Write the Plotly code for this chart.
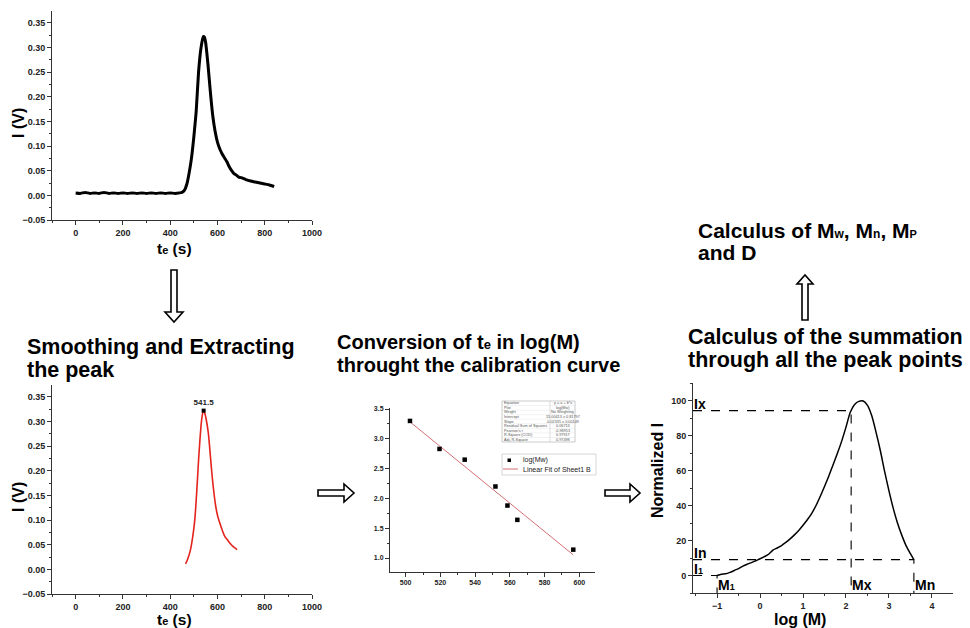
import numpy as np
import plotly.graph_objects as go

W, H = 970, 628
FONT = "Liberation Sans, Arial, Helvetica, sans-serif"

# ---------------- data ----------------
# Panel 1: raw signal
te_raw = [0, 20, 40, 60, 80, 100, 120, 140, 160, 180, 200, 220, 240, 260, 280, 300,
          320, 340, 360, 380, 400, 420, 440, 450, 460, 470, 480, 490, 500, 510, 520,
          530, 540, 545, 550, 560, 570, 580, 590, 600, 610, 620, 630, 640, 650, 660,
          670, 680, 690, 700, 720, 740, 760, 780, 800, 820, 840]
I_raw = [0.005, 0.004, 0.006, 0.004, 0.005, 0.004, 0.006, 0.004, 0.005, 0.004, 0.005,
         0.004, 0.005, 0.004, 0.005, 0.004, 0.005, 0.004, 0.005, 0.004, 0.005, 0.004,
         0.005, 0.006, 0.010, 0.022, 0.045, 0.075, 0.118, 0.170, 0.250, 0.298, 0.322,
         0.321, 0.310, 0.265, 0.210, 0.162, 0.130, 0.108, 0.094, 0.084, 0.076, 0.068,
         0.058, 0.050, 0.044, 0.041, 0.037, 0.036, 0.032, 0.029, 0.027, 0.025, 0.023,
         0.021, 0.018]

# Panel 2: smoothed / extracted peak
te_smooth = [465, 475, 486, 495, 504, 512, 521, 527, 533, 538, 541.5, 546, 552, 561,
             568, 575, 584, 593, 601, 610, 620, 631, 642, 655, 667, 675, 683]
I_smooth = [0.011, 0.022, 0.040, 0.065, 0.100, 0.155, 0.229, 0.270, 0.303, 0.318,
            0.322, 0.317, 0.305, 0.278, 0.242, 0.202, 0.160, 0.127, 0.108, 0.094,
            0.080, 0.067, 0.060, 0.052, 0.046, 0.043, 0.040]
peak_te = 541.5
peak_I = 0.322

# Panel 3: calibration curve
te_cal = [502.5, 519.5, 534.0, 551.7, 558.6, 564.3, 596.5]
logMw_cal = [3.30, 2.83, 2.65, 2.20, 1.88, 1.64, 1.14]

# Panel 4: normalized distribution
logM = [-1.0, -0.9, -0.8, -0.7, -0.6, -0.5, -0.4, -0.3, -0.2, -0.1, 0.0, 0.1, 0.2,
        0.3, 0.4, 0.5, 0.6, 0.7, 0.8, 0.9, 1.0, 1.1, 1.2, 1.3, 1.4, 1.5, 1.6, 1.7,
        1.8, 1.9, 2.0, 2.1, 2.2, 2.3, 2.4, 2.5, 2.6, 2.7, 2.8, 2.9, 3.0, 3.1, 3.2,
        3.3, 3.4, 3.5, 3.58]
normI = [0.0, 0.8, 1.0, 1.8, 2.9, 4.0, 5.4, 6.5, 7.4, 8.5, 9.6, 10.8, 12.2, 14.6,
         15.8, 17.2, 19.0, 21.0, 23.3, 25.8, 28.8, 32.0, 35.5, 40.0, 45.3, 51.0, 57.0,
         63.5, 70.0, 77.0, 85.0, 93.5, 98.0, 99.8, 100.0, 97.5, 91.5, 82.0, 71.5, 59.5,
         48.5, 38.5, 30.0, 23.0, 17.0, 12.5, 9.1]
M1, Mx, Mn = -1.0, 2.12, 3.58
I1, Ix, In = 0.0, 94.5, 9.1
LOGM_MIN, NI_MIN = -1.56, -10.0

stat_labels = ["Equation", "Plot", "Weight", "Intercept", "Slope",
               "Residual Sum of Squares", "Pearson's r", "R-Square (COD)", "Adj. R-Square"]
stat_values = ["y = a + b*x", "log(Mw)", "No Weighting", "15.00413 \u00b1 0.81797",
               "-0.02335 \u00b1 0.00149", "0.06713", "-0.98953", "0.97917", "0.97498"]


def px(x):
    return x / W


def py(y):
    return 1 - y / H


def small(t, size):
    return f"<span style='font-size:{size}px'>{t}</span>"


def axis(domain, rng, dtick, minor, size, anchor, fmt=None):
    d = dict(domain=domain, range=rng, dtick=dtick, tick0=0, showline=True,
             linecolor="#333", linewidth=1, ticks="outside", ticklen=4,
             tickcolor="#333", tickwidth=1, automargin=False,
             minor=dict(ticks="outside", ticklen=2, dtick=minor, tickcolor="#333"),
             showgrid=False, zeroline=False, anchor=anchor, fixedrange=True,
             tickfont=dict(family=FONT, size=size, color="#222", weight="bold"))
    if fmt:
        d["tickformat"] = fmt
    return d


fig = go.Figure()

# Panel 1
fig.add_trace(go.Scatter(x=te_raw, y=I_raw, mode="lines",
                         line=dict(color="black", width=3, shape="spline", smoothing=0.5),
                         xaxis="x", yaxis="y", showlegend=False))
# Panel 2
fig.add_trace(go.Scatter(x=te_smooth, y=I_smooth, mode="lines",
                         line=dict(color="#e3231c", width=1.6, shape="spline"),
                         xaxis="x2", yaxis="y2", showlegend=False))
fig.add_trace(go.Scatter(x=[peak_te], y=[peak_I], mode="markers+text",
                         marker=dict(symbol="square", size=4, color="black"),
                         text=[str(peak_te)], textposition="top center",
                         textfont=dict(family=FONT, size=8, color="#222", weight="bold"),
                         xaxis="x2", yaxis="y2", showlegend=False))
# Panel 3
slope, intercept = np.polyfit(te_cal, logMw_cal, 1)
fit_x = [te_cal[0], te_cal[-1]]
fit_y = [intercept + slope * v for v in fit_x]
fig.add_trace(go.Scatter(x=fit_x, y=fit_y, mode="lines",
                         line=dict(color="#d46f74", width=1),
                         xaxis="x3", yaxis="y3", showlegend=False))
fig.add_trace(go.Scatter(x=te_cal, y=logMw_cal, mode="markers",
                         marker=dict(symbol="square", size=4.5, color="black"),
                         xaxis="x3", yaxis="y3", showlegend=False))
# Panel 4
fig.add_trace(go.Scatter(x=logM, y=normI, mode="lines",
                         line=dict(color="black", width=1.5, shape="spline", smoothing=0.7),
                         xaxis="x4", yaxis="y4", showlegend=False))
dash = dict(color="black", width=1.1, dash="dash")
for (mx, iy) in [(Mx, Ix), (Mn, In), (M1, I1)]:
    fig.add_trace(go.Scatter(x=[LOGM_MIN, mx, mx], y=[iy, iy, NI_MIN], mode="lines",
                             line=dash, xaxis="x4", yaxis="y4", showlegend=False))

ann = []


def text(t, x, y, size, xanchor="left", angle=0, bold=True, color="black", yanchor="middle"):
    ann.append(dict(text=t, x=px(x), y=py(y), xref="paper", yref="paper",
                    xanchor=xanchor, yanchor=yanchor, showarrow=False, textangle=angle,
                    borderpad=0,
                    font=dict(family=FONT, size=size, color=color,
                              weight="bold" if bold else "normal")))


# headings
text("Smoothing and Extracting", 26, 347, 21.5)
text("the peak", 26, 370, 21.5)
text("Conversion of t" + small("e", 13) + " in log(M)", 336, 342, 20)
text("throught the calibration curve", 336, 364.5, 20)
text("Calculus of the summation", 687, 337, 21.5)
text("through all the peak points", 687, 360, 21.5)
text("Calculus of M" + small("w", 12) + ", M" + small("n", 12) + ", M" + small("P", 11),
     697, 230, 21)
text("and D", 697, 253, 21)

# axis titles
text("I (V)", 18, 123, 16, xanchor="center", angle=-90)
text("t" + small("e", 11) + " (s)", 174, 248, 15.5, xanchor="center")
text("I (V)", 18, 497, 16, xanchor="center", angle=-90)
text("t" + small("e", 11) + " (s)", 174, 619.5, 15.5, xanchor="center")
text("Normalized I", 657, 471, 16, xanchor="center", angle=-90)
text("log (M)", 800, 619, 16, xanchor="center")

# panel 4 labels (data coords)
for t, xv, yv in [("Ix", LOGM_MIN, Ix + 4), ("In", LOGM_MIN, In + 4),
                  ("I" + small("1", 9), LOGM_MIN, I1 + 3.5),
                  ("M" + small("1", 9), M1, NI_MIN + 4.5), ("Mx", Mx, NI_MIN + 4.5),
                  ("Mn", Mn, NI_MIN + 4.5)]:
    ann.append(dict(text=t, x=xv, y=yv, xref="x4", yref="y4", xanchor="left",
                    yanchor="middle", showarrow=False, borderpad=0,
                    font=dict(family=FONT, size=14, color="black", weight="bold")))

# statistics table
shapes = []
tx0, tx1, tcol, ty0, ty1 = 502, 575, 550, 401, 442
rowh = (ty1 - ty0) / len(stat_labels)
shapes.append(dict(type="rect", xref="paper", yref="paper", x0=px(tx0), x1=px(tx1),
                   y0=py(ty1), y1=py(ty0), line=dict(color="#aaa", width=0.6),
                   fillcolor="white", layer="above"))
shapes.append(dict(type="line", xref="paper", yref="paper", x0=px(tcol), x1=px(tcol),
                   y0=py(ty1), y1=py(ty0), line=dict(color="#bbb", width=0.5)))
for i in range(1, len(stat_labels)):
    yy = ty0 + i * rowh
    shapes.append(dict(type="line", xref="paper", yref="paper", x0=px(tx0), x1=px(tx1),
                       y0=py(yy), y1=py(yy), line=dict(color="#ddd", width=0.4)))
for i, (lab, val) in enumerate(zip(stat_labels, stat_values)):
    yc = ty0 + (i + 0.5) * rowh
    text(lab, tx0 + 1, yc, 3.8, bold=False, color="#555")
    text(val, (tcol + tx1) / 2, yc, 3.8, xanchor="center", bold=False, color="#555")

# legend box of panel 3
shapes.append(dict(type="rect", xref="paper", yref="paper", x0=px(502), x1=px(596),
                   y0=py(475), y1=py(454), line=dict(color="#ccc", width=0.8),
                   fillcolor="white", layer="above"))
shapes.append(dict(type="rect", xref="paper", yref="paper", x0=px(507.5), x1=px(511),
                   y0=py(462), y1=py(458.5), line=dict(width=0), fillcolor="black",
                   layer="above"))
shapes.append(dict(type="line", xref="paper", yref="paper", x0=px(503), x1=px(518),
                   y0=py(469), y1=py(469), line=dict(color="#d46f74", width=1),
                   layer="above"))
text("log(Mw)", 522, 460, 7, bold=False, color="#222")
text("Linear Fit of Sheet1 B", 522, 469.5, 7, bold=False, color="#222")


# hollow arrows
def arrow(points):
    p = "M " + " L ".join(f"{px(x):.5f},{py(y):.5f}" for x, y in points) + " Z"
    shapes.append(dict(type="path", xref="paper", yref="paper", path=p,
                       fillcolor="white", line=dict(color="black", width=1.6)))


arrow([(171, 270), (177, 270), (177, 312), (183, 312), (174, 322), (165, 312), (171, 312)])
arrow([(318, 490), (344, 490), (344, 484), (354, 493), (344, 502), (344, 496), (318, 496)])
arrow([(605, 490), (630, 490), (630, 484), (640, 493), (630, 502), (630, 496), (605, 496)])
arrow([(802, 320), (802, 284), (797, 284), (805, 275), (813, 284), (808, 284), (808, 320)])

fig.update_layout(
    width=W, height=H, margin=dict(l=0, r=0, t=0, b=0, autoexpand=False),
    paper_bgcolor="white", plot_bgcolor="white", showlegend=False,
    font=dict(family=FONT),
    xaxis=axis([px(52), px(312)], [-100, 1000], 200, 100, 9, "y"),
    yaxis=axis([py(220), py(11)], [-0.05, 0.374], 0.05, 0.025, 9, "x", ".2f"),
    xaxis2=axis([px(52), px(312)], [-100, 1000], 200, 100, 9, "y2"),
    yaxis2=axis([py(594), py(385)], [-0.05, 0.374], 0.05, 0.025, 9, "x2", ".2f"),
    xaxis3=axis([px(390), px(595)], [491, 609], 20, 10, 7, "y3"),
    yaxis3=axis([py(572), py(408)], [0.765, 3.517], 0.5, 0.25, 7, "x3", ".1f"),
    xaxis4=axis([px(693), px(953)], [LOGM_MIN, 4.49], 1, 0.5, 9, "y4"),
    yaxis4=axis([py(593), py(383)], [NI_MIN, 110.3], 20, 10, 9, "x4"),
    annotations=ann, shapes=shapes,
)

fig.write_html("out.html",
               config={"displayModeBar": False},
               post_script="var d=document.documentElement,b=document.body;"
                           "[d,b].forEach(function(e){e.style.margin='0';e.style.padding='0';"
                           "e.style.overflow='hidden';e.style.width='970px';"
                           "e.style.height='628px';e.style.lineHeight='0';});")
